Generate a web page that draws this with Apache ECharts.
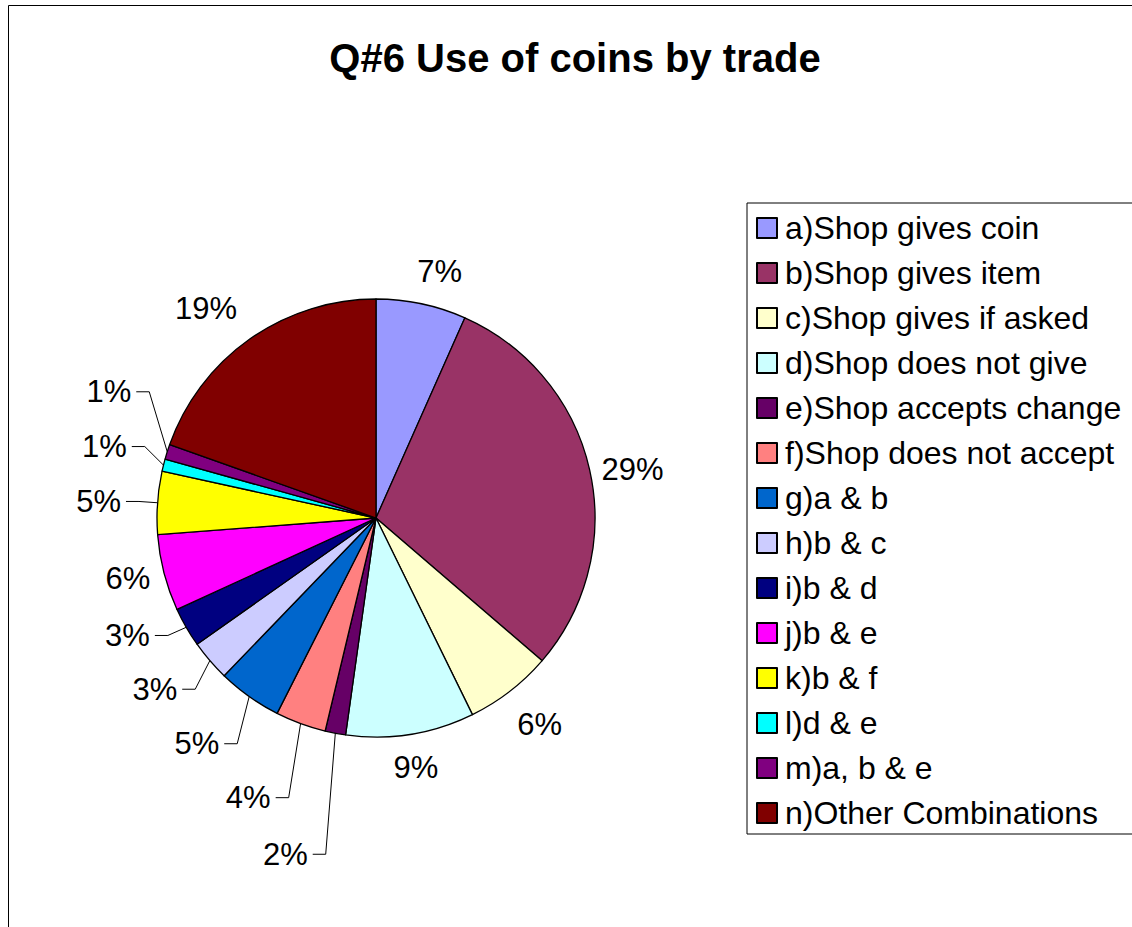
<!DOCTYPE html>
<html>
<head>
<meta charset="utf-8">
<script src="https://cdn.jsdelivr.net/npm/echarts@6/dist/echarts.min.js"></script>
<style>
  html, body { margin: 0; padding: 0; background: #fff; }
  #chart { width: 1132px; height: 927px; }
</style>
</head>
<body>
<div id="chart"></div>
<script>
// ---- data ----
const titleText = 'Q#6 Use of coins by trade';
const categories = [
  'a)Shop gives coin', 'b)Shop gives item', 'c)Shop gives if asked', 'd)Shop does not give',
  'e)Shop accepts change', 'f)Shop does not accept', 'g)a & b', 'h)b & c', 'i)b & d',
  'j)b & e', 'k)b & f', 'l)d & e', 'm)a, b & e', 'n)Other Combinations'
];
const values = [6.6, 29.4, 6.4, 9.4, 1.5, 3.7, 4.7, 3.0, 2.9, 5.6, 4.6, 0.9, 1.1, 19.4];

// ---- styles ----
const colors = ['#9999FF', '#993366', '#FFFFCC', '#CCFFFF', '#660066', '#FF8080', '#0066CC',
  '#CCCCFF', '#000080', '#FF00FF', '#FFFF00', '#00FFFF', '#800080', '#800000'];
// leader-line labels: [angle shift (deg), radial length (px)]
const leaderStyle = {4: [-2.2, 121], 5: [-2.8, 74], 6: [-3.8, 46], 7: [-2.8, 30], 8: [0.5, 20],
  10: [0, 18.6], 11: [3.2, 23], 12: [11.5, 40.5]};
// plain labels: [angle shift (deg), extra distance (px)]
const labelShift = {0: [2.5, 0], 1: [1.9, -7], 2: [-0.7, 2.3], 3: [0, 0], 9: [0.9, -5], 13: [-3.8, 4]};
const FONT = "'Liberation Sans', Arial, sans-serif";
const CX = 376, CY = 518, R = 219, R2 = 235;

const total = values.reduce((s, v) => s + v, 0);
function midAngle(i) {
  let cum = 0;
  for (let k = 0; k < i; k++) cum += values[k];
  return (cum + values[i] / 2) / total * 360;
}

function layoutLabel(p) {
  const i = p.dataIndex;
  const mid = midAngle(i);
  const w = p.labelRect.width, h = p.labelRect.height;
  const ls = leaderStyle[i];
  const a = mid * Math.PI / 180;
  if (ls) {
    const edge = [CX + R * Math.sin(a), CY - R * Math.cos(a)];
    const b = (mid + ls[0]) * Math.PI / 180;
    const elbow = [CX + (R + ls[1]) * Math.sin(b), CY - (R + ls[1]) * Math.cos(b)];
    const side = elbow[0] < CX ? -1 : 1;
    const end = [elbow[0] + side * 13, elbow[1]];
    return {
      x: end[0] + side * 5, y: end[1],
      align: side < 0 ? 'right' : 'left', verticalAlign: 'middle',
      labelLinePoints: [edge, elbow, end]
    };
  }
  const sh = labelShift[i] || [0, 0];
  const a2 = (mid + sh[0]) * Math.PI / 180;
  const rr = R2 + sh[1];
  const dx = Math.sin(a2), dy = -Math.cos(a2);
  const sx = Math.sign(dx) * w / 2, sy = Math.sign(dy) * h / 2;
  const ds = dx * sx + dy * sy;
  const D = ds + Math.sqrt(ds * ds - (sx * sx + sy * sy) + rr * rr);
  return { x: CX + D * dx, y: CY + D * dy, align: 'center', verticalAlign: 'middle' };
}

const pieData = categories.map((name, i) => ({
  name: name,
  value: values[i],
  itemStyle: { color: colors[i] },
  labelLine: { show: !!leaderStyle[i] }
}));

const chart = echarts.init(document.getElementById('chart'), null, { renderer: 'svg' });
chart.setOption({
  animation: false,
  backgroundColor: '#fff',
  textStyle: { fontFamily: FONT },
  title: {
    text: titleText,
    left: 570,
    textAlign: 'center',
    top: 33,
    textStyle: { fontSize: 40, fontWeight: 'bold', color: '#000', fontFamily: FONT }
  },
  graphic: [{
    type: 'rect',
    shape: { x: 8.5, y: 5.5, width: 2000, height: 2000 },
    style: { fill: 'none', stroke: '#000', lineWidth: 1 },
    silent: true, z: -10
  }],
  legend: {
    orient: 'vertical',
    left: 747,
    top: 203,
    padding: [9, 120, 5, 9],
    itemWidth: 20,
    itemHeight: 20,
    itemGap: 13,
    icon: 'rect',
    borderColor: '#000',
    borderWidth: 1,
    selectedMode: false,
    textStyle: { fontSize: 32, lineHeight: 32, color: '#000', fontFamily: FONT, padding: [0, 0, 0, 3] },
    data: categories
  },
  series: [{
    type: 'pie',
    center: [CX, CY],
    radius: R,
    startAngle: 90,
    clockwise: true,
    avoidLabelOverlap: false,
    minShowLabelAngle: 0,
    silent: true,
    itemStyle: { borderColor: '#000', borderWidth: 1.3 },
    label: {
      show: true, position: 'outside',
      formatter: p => Math.round(p.value) + '%',
      fontSize: 31, lineHeight: 31, color: '#000', fontFamily: FONT
    },
    labelLine: { show: true, length: 10, length2: 10, lineStyle: { color: '#000', width: 1 } },
    labelLayout: layoutLabel,
    emphasis: { disabled: true },
    data: pieData
  }]
});
</script>
</body>
</html>
